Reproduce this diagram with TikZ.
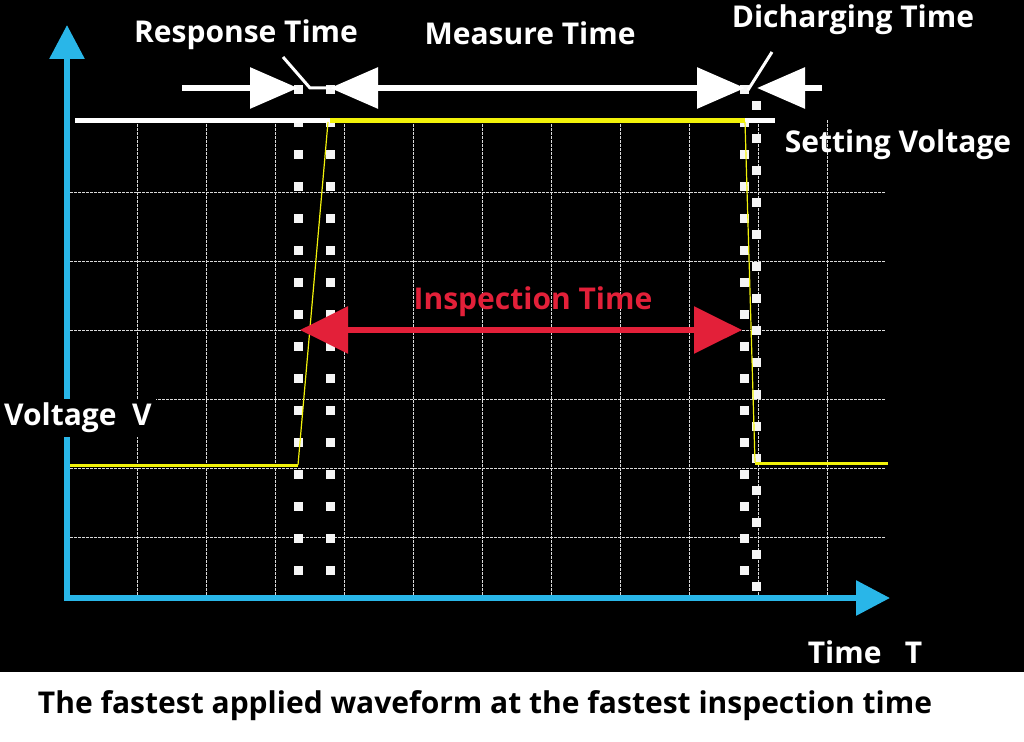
\documentclass[tikz,border=0pt]{standalone}
\usepackage{fontspec}
\setmainfont{Open Sans}
\usetikzlibrary{arrows.meta}
\definecolor{axisblue}{HTML}{29B6E8}
\definecolor{wyellow}{HTML}{F2F20A}
\definecolor{ired}{HTML}{E32039}
\tikzset{
 lbl/.style={text=white,font=\bfseries\fontsize{30}{34}\selectfont,inner sep=1pt},
 axis/.style={draw=axisblue,line width=6pt,-{Triangle[length=34pt,width=34pt]}},
 >={Triangle[length=48pt,width=40pt]},
 sq/.style={fill=white!92!gray,minimum size=9pt,inner sep=0pt}
}
\begin{document}
\begin{tikzpicture}[x=1pt,y=-1pt]
\useasboundingbox (0,0) rectangle (1024,741);
\fill[black] (0,0) rectangle (1024,672);
\fill[white] (0,672) rectangle (1024,741);
% grid
\foreach \x in {137,206,275,344,413,482,551,620,689,758,827}
  \draw[gray!30,line width=0.5pt,dash pattern=on 3pt off 1pt] (\x,120) -- (\x,595);
\foreach \y in {192,261,330,399,468,537}
  \draw[gray!30,line width=0.5pt,dash pattern=on 3pt off 1pt] (70,\y) -- (885,\y);
% dotted markers
\foreach \y in {90,122,154,186,218,250,282,314,346,378,410,442,474,506,538,570} {
  \node[sq] at (298,\y) {}; \node[sq] at (330,\y) {};
  \node[sq] at (744,\y) {}; \node[sq] at (756,\y+16) {};
}
% axes
\coordinate (ytop) at (67,25);
\coordinate (xend) at (890,598);
\draw[axis] (67,601) -- (ytop);
\draw[axis] (64,598) -- (xend);
% waveform
\draw[white,line width=5pt] (75,120) -- (330,120);
\draw[white,line width=5pt] (745,120) -- (775,120);
\draw[wyellow,line width=5pt] (330,120) -- (745,120);
\draw[wyellow,line width=3pt] (70,465) -- (298,465);
\draw[wyellow,line width=1.2pt] (298,465) -- (328,122);
\draw[wyellow,line width=1.2pt] (745,122) -- (755,462);
\draw[wyellow,line width=3pt] (755,463) -- (888,463);
% top arrows
\coordinate (a1) at (182,88);
\coordinate (a2) at (298,88);
\coordinate (a3) at (330,88);
\coordinate (a4) at (745,88);
\coordinate (a5) at (757,88);
\coordinate (a6) at (822,88);
\draw[white,line width=6pt,->] (a1) -- (a2);
\draw[white,line width=6pt,<->] (a3) -- (a4);
\draw[white,line width=6pt,->] (a6) -- (a5);
\draw[white,line width=3pt] (283,57) -- (310,88) -- (330,88);
\draw[white,line width=3pt] (772,52) -- (748,90);
% inspection
\coordinate (i1) at (300,330);
\coordinate (i2) at (742,330);
\draw[ired,line width=6pt,{Triangle[length=48pt,width=46pt]}-{Triangle[length=48pt,width=46pt]}] (i1) -- (i2);
\node[text=ired,font=\bfseries\fontsize{30}{34}\selectfont] (insp) at (533,302) {Inspection Time};
% labels
\node[lbl] (rt) at (246,35) {Response Time};
\node[lbl] (mt) at (530,33) {Measure Time};
\node[lbl] (dt) at (853,20) {Dicharging Time};
\node[lbl] (sv) at (898,145) {Setting Voltage};
\node[lbl,fill=black,inner sep=4pt] (vv) at (78,418) {Voltage\ \ V};
\node[lbl] (tt) at (865,652) {Time\ \ \ T};
\node[text=black,font=\bfseries\fontsize{30}{34}\selectfont] (cap) at (485,706) {The fastest applied waveform at the fastest inspection time};
\end{tikzpicture}
\end{document}
